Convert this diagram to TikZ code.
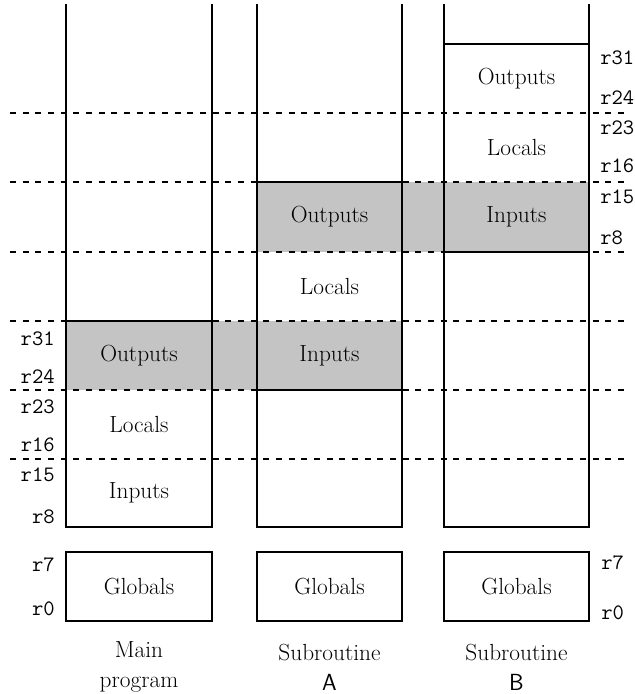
\documentclass[tikz,border=0pt]{standalone}
\usepackage{fontspec}
\definecolor{cellgray}{RGB}{196,196,196}
\begin{document}
\begin{tikzpicture}[x=0.75pt,y=-0.75pt,
  thinline/.style={line width=0.8pt},
  thickframe/.style={line width=1.9pt},
  rowsep/.style={line width=1pt, dash pattern=on 4.5pt off 5pt},
  lbl/.style={font=\fontsize{17.5}{21}\selectfont, inner sep=0pt},
  regname/.style={font=\ttfamily\fontsize{16.5}{19}\selectfont, inner sep=0pt},
  colcap/.style={font=\fontsize{17.5}{22.5}\selectfont, align=center, inner sep=0pt}]

\useasboundingbox (0,0) rectangle (635,694);

% shared register windows
\fill[cellgray] (257,182) rectangle (589,252);
\fill[cellgray] (66,321) rectangle (402,390);

% window boundaries
\foreach \y in {113,182,252,321,390,459}
  \draw[rowsep] (10,\y) -- (628,\y);

% register file columns
\foreach \l/\r in {66/212,257/402,444/589}
  \draw[thinline] (\l,4) -- (\l,527) -- (\r,527) -- (\r,4);

% active windows
\draw[thickframe] (66,321) rectangle (212,527);
\draw[thickframe] (257,182) rectangle (402,390);
\draw[thickframe] (444,44) rectangle (589,252);

% global registers
\foreach \l/\r in {66/212,257/402,444/589}
  \draw[thickframe] (\l,552) rectangle (\r,621);

% main program window
\node[lbl] (mout) at (139,355.5) {Outputs};
\node[lbl] (mloc) at (139,424.5) {Locals};
\node[lbl] (minp) at (139,493) {Inputs};
\node[lbl] (mglb) at (139,586.5) {Globals};

% subroutine A window
\node[lbl] (aout) at (329.5,217) {Outputs};
\node[lbl] (aloc) at (329.5,286.5) {Locals};
\node[lbl] (ainp) at (329.5,355.5) {Inputs};
\node[lbl] (aglb) at (329.5,586.5) {Globals};

% subroutine B window
\node[lbl] (bout) at (516.5,78.5) {Outputs};
\node[lbl] (bloc) at (516.5,147.5) {Locals};
\node[lbl] (binp) at (516.5,217) {Inputs};
\node[lbl] (bglb) at (516.5,586.5) {Globals};

% register numbers, main program
\node[regname, anchor=east] (m31) at (55,339) {r31};
\node[regname, anchor=east] (m24) at (55,377) {r24};
\node[regname, anchor=east] (m23) at (55,407) {r23};
\node[regname, anchor=east] (m16) at (55,445) {r16};
\node[regname, anchor=east] (m15) at (55,475) {r15};
\node[regname, anchor=east] (m8)  at (55,517) {r8};
\node[regname, anchor=east] (m7)  at (55,565) {r7};
\node[regname, anchor=east] (m0)  at (55,609) {r0};

% register numbers, subroutine B
\node[regname, anchor=west] (b31) at (600,58) {r31};
\node[regname, anchor=west] (b24) at (600,98) {r24};
\node[regname, anchor=west] (b23) at (600,128) {r23};
\node[regname, anchor=west] (b16) at (600,166) {r16};
\node[regname, anchor=west] (b15) at (600,197) {r15};
\node[regname, anchor=west] (b8)  at (600,238) {r8};
\node[regname, anchor=west] (b7)  at (601,563) {r7};
\node[regname, anchor=west] (b0)  at (601,613) {r0};

% column captions
\node[colcap] (capm) at (139,667) {Main\\program};
\node[colcap] (capa) at (329.5,667) {Subroutine\\{\sffamily A}};
\node[colcap] (capb) at (516.5,667) {Subroutine\\{\sffamily B}};
\end{tikzpicture}
\end{document}
